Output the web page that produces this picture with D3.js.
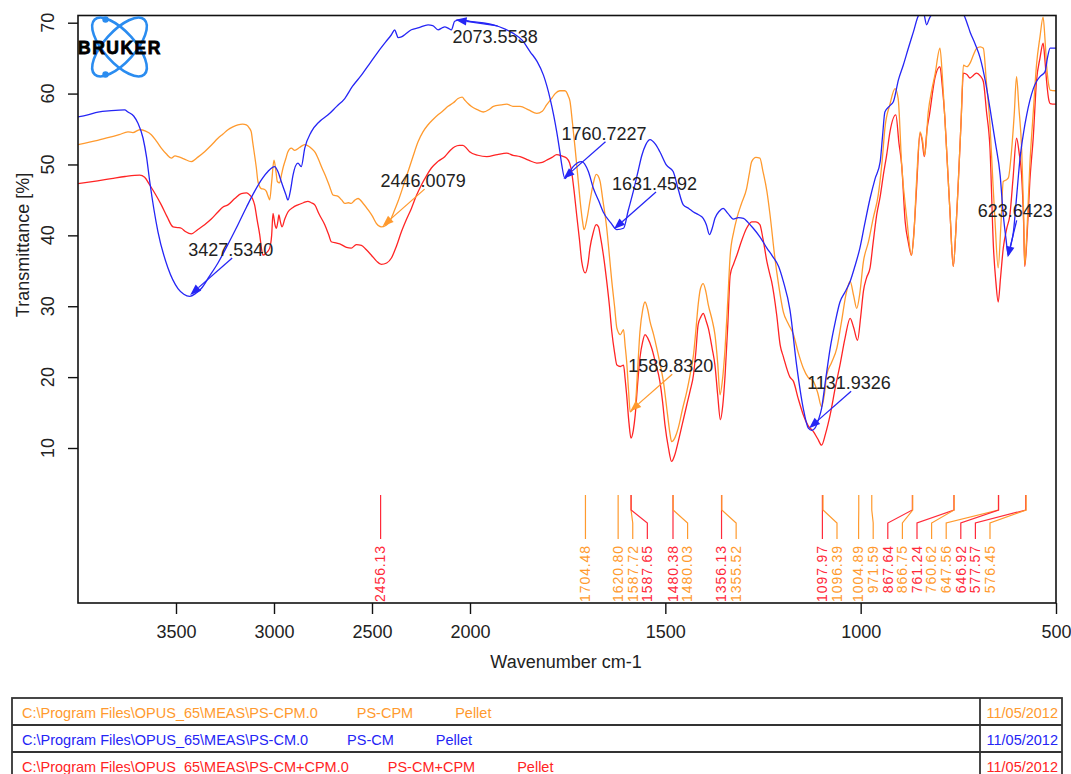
<!DOCTYPE html>
<html><head><meta charset="utf-8">
<script src="https://cdn.jsdelivr.net/npm/d3@7"></script>
<style>body{margin:0;background:#fff}svg{display:block;font-family:"Liberation Sans",Arial,sans-serif}</style>
</head><body><svg id="c" width="1071" height="774"></svg>
<script>
// ---------- DATA ----------
const psCM = [[4000,56.7],[3950,57.0],[3898,57.4],[3830,57.6],[3762,57.7],[3745,57.4],[3715,56.8],[3694,55.8],[3668,53.7],[3650,51.0],[3634,47.6],[3592,40.5],[3541,35.4],[3490,32.5],[3460,31.7],[3430,31.4],[3400,31.8],[3371,32.5],[3330,34.2],[3286,36.1],[3230,39.0],[3184,41.5],[3140,44.0],[3099,46.2],[3060,48.0],[3031,49.0],[2997,49.7],[2980,49.0],[2963,47.6],[2940,45.8],[2929,45.0],[2915,46.5],[2903,48.5],[2878,50.2],[2861,49.7],[2843,52.3],[2810,54.6],[2770,56.0],[2724,57.0],[2680,58.2],[2639,59.3],[2600,61.0],[2554,62.6],[2510,64.3],[2469,65.9],[2430,67.3],[2401,68.3],[2384,69.0],[2375,68.4],[2367,67.9],[2350,68.0],[2333,68.3],[2299,69.0],[2260,69.3],[2214,69.7],[2190,69.6],[2163,69.0],[2140,69.3],[2129,69.4],[2110,69.2],[2095,69.0],[2078,70.2],[2051,70.4],[2000,70.2],[1970,70.0],[1940,69.7],[1910,69.1],[1889,68.5],[1866,67.5],[1846,65.9],[1828,64.5],[1812,62.6],[1795,59.3],[1786,57.0],[1778,54.6],[1770,51.8],[1765,49.9],[1757,48.0],[1750,48.5],[1736,49.7],[1714,50.4],[1697,49.0],[1684,46.6],[1670,44.8],[1659,43.3],[1640,41.8],[1624,40.8],[1607,41.0],[1595,43.5],[1582,46.2],[1570,49.0],[1560,51.3],[1550,52.8],[1539,53.5],[1526,52.9],[1514,51.8],[1497,49.9],[1480,49.0],[1467,46.5],[1454,44.3],[1440,43.8],[1428,43.3],[1415,42.9],[1403,42.4],[1395,41.5],[1387,40.1],[1380,41.0],[1373,42.4],[1362,43.4],[1352,43.8],[1340,43.1],[1326,42.3],[1313,42.5],[1300,42.4],[1288,41.8],[1275,41.0],[1258,39.8],[1240,38.2],[1225,37.0],[1210,35.6],[1198,33.5],[1181,29.5],[1164,21.7],[1147,15.6],[1134,12.8],[1125,12.5],[1117,12.8],[1108,14.0],[1100,15.6],[1090,19.5],[1078,24.1],[1065,27.8],[1053,30.6],[1040,32.0],[1027,33.5],[1015,35.6],[1002,38.2],[990,41.5],[976,45.2],[963,48.0],[950,50.4],[944,54.0],[938,57.4],[925,58.3],[916,58.9],[903,62.0],[891,64.0],[878,66.4],[865,68.7],[852,71.0],[840,71.5],[831,69.7],[825,70.5],[818,71.2],[800,72],[760,72],[737,71.2],[728,70.0],[720,68.7],[707,67.0],[694,65.0],[680,61.5],[669,57.9],[655,53.0],[643,48.5],[635,42.9],[628,39.5],[622,37.2],[616,38.5],[609,40.5],[600,46.0],[592,50.9],[583,54.5],[575,57.0],[567,59.0],[558,60.7],[550,61.7],[541,62.4],[528,63.1],[522,65.0],[515,66.4],[500,66.4]];

const psCPM = [[4000,52.8],[3900,53.4],[3830,53.9],[3790,54.2],[3745,54.6],[3720,54.5],[3685,54.9],[3655,54.7],[3626,54.2],[3600,53.3],[3575,52.3],[3550,51.5],[3524,50.9],[3505,51.2],[3490,51.1],[3460,50.8],[3422,50.4],[3390,51.0],[3354,51.8],[3320,52.7],[3286,53.7],[3260,54.3],[3235,54.9],[3210,55.3],[3184,55.6],[3160,55.7],[3141,55.6],[3125,55.1],[3116,54.6],[3108,53.0],[3099,51.3],[3090,49.5],[3082,47.6],[3065,46.6],[3050,46.5],[3039,46.2],[3030,45.5],[3022,45.0],[3012,47.5],[3000,50.6],[2990,49.0],[2983,47.6],[2971,47.4],[2962,48.5],[2954,49.5],[2940,50.8],[2929,51.8],[2912,52.3],[2894,52.0],[2870,52.4],[2843,52.8],[2825,52.6],[2810,52.3],[2790,51.7],[2776,50.9],[2755,49.5],[2733,48.1],[2715,46.8],[2699,45.7],[2673,45.5],[2655,45.0],[2639,44.5],[2620,44.6],[2606,44.5],[2590,44.9],[2571,45.2],[2545,44.5],[2520,43.6],[2498,42.7],[2478,41.7],[2453,41.2],[2430,41.4],[2410,41.9],[2390,43.2],[2367,44.8],[2340,47.0],[2316,49.0],[2290,51.2],[2265,53.2],[2240,54.6],[2214,55.6],[2190,56.3],[2163,57.0],[2140,57.5],[2112,58.2],[2085,58.7],[2061,59.3],[2040,59.5],[2027,59.1],[2010,58.6],[1997,58.2],[1980,57.7],[1966,57.4],[1950,57.8],[1940,58.2],[1920,58.4],[1906,58.5],[1890,58.2],[1872,58.2],[1850,57.7],[1829,57.2],[1815,57.5],[1804,58.4],[1790,59.4],[1782,60.0],[1770,60.4],[1757,60.4],[1748,59.6],[1744,58.9],[1738,56.0],[1731,52.3],[1724,48.3],[1718,44.8],[1712,42.0],[1708,40.8],[1700,42.5],[1693,44.8],[1684,47.4],[1677,48.6],[1672,48.4],[1667,47.6],[1660,45.0],[1650,41.0],[1643,37.0],[1637,33.5],[1630,30.0],[1624,26.9],[1615,26.0],[1607,26.7],[1603,24.5],[1599,22.2],[1594,18.0],[1590,15.1],[1584,15.4],[1577,16.1],[1571,21.0],[1565,26.4],[1558,29.5],[1552,30.6],[1545,29.5],[1539,27.8],[1530,26.0],[1522,24.1],[1514,22.0],[1505,19.4],[1495,15.0],[1488,12.0],[1484,10.9],[1475,11.5],[1467,12.8],[1456,15.5],[1445,18.0],[1436,20.5],[1428,23.1],[1422,26.5],[1416,30.2],[1410,32.5],[1403,33.2],[1396,32.0],[1390,30.2],[1380,28.0],[1373,26.0],[1366,22.0],[1360,17.5],[1354,19.5],[1347,24.1],[1340,31.0],[1334,37.2],[1325,40.5],[1317,42.4],[1305,44.5],[1292,46.6],[1285,48.7],[1279,50.4],[1268,51.0],[1258,50.9],[1250,49.0],[1240,46.2],[1232,42.9],[1220,37.0],[1210,33.0],[1198,29.2],[1185,27.5],[1172,26.0],[1160,23.5],[1147,21.3],[1135,20.0],[1121,19.4],[1110,17.8],[1100,15.8],[1093,17.5],[1087,20.3],[1075,22.0],[1061,24.1],[1050,27.5],[1036,32.1],[1027,33.5],[1018,31.5],[1010,29.7],[1003,31.5],[993,36.3],[980,39.1],[968,42.4],[955,45.7],[945,50.5],[938,55.1],[925,58.5],[912,60.7],[904,59.3],[895,49.9],[882,42.4],[870,37.2],[864,40.0],[857,47.6],[848,54.6],[842,53.5],[836,51.3],[827,57.4],[818,60.5],[810,62.6],[797,66.4],[791,62.5],[785,57.0],[778,50.0],[771,42.9],[763,35.6],[756,41.0],[750,47.6],[743,56.0],[737,64.0],[728,63.8],[720,64.3],[711,65.5],[703,66.4],[694,66.6],[686,66.4],[678,61.5],[669,55.6],[662,48.0],[656,41.9],[648,35.4],[641,41.5],[635,47.6],[628,47.8],[622,48.1],[614,51.8],[607,57.0],[601,62.4],[595,58.0],[588,52.3],[583,43.5],[580,35.8],[574,41.0],[567,49.9],[558,57.5],[550,64.0],[541,68.0],[533,70.8],[528,67.5],[524,64.0],[518,61.0],[515,60.5],[500,60.4]];

const psCMCPM = [[4000,47.3],[3900,47.7],[3830,48.0],[3760,48.3],[3685,48.5],[3660,48.2],[3634,47.1],[3605,45.8],[3575,44.3],[3545,42.6],[3515,41.2],[3490,41.1],[3473,41.0],[3450,40.5],[3422,40.2],[3390,40.8],[3354,41.5],[3320,42.3],[3286,43.3],[3260,44.0],[3235,44.3],[3200,45.2],[3167,45.9],[3140,46.0],[3124,45.7],[3110,45.2],[3099,44.3],[3085,42.0],[3073,40.1],[3063,38.0],[3056,37.2],[3040,37.5],[3022,38.2],[3012,40.0],[3005,43.1],[2995,41.5],[2988,41.0],[2980,42.0],[2975,42.9],[2968,42.0],[2959,41.2],[2945,42.3],[2929,43.3],[2905,43.9],[2878,44.3],[2850,44.6],[2827,44.8],[2810,44.6],[2792,44.3],[2770,43.0],[2741,41.5],[2720,40.0],[2708,39.1],[2680,38.9],[2657,38.7],[2630,38.3],[2606,38.2],[2580,38.7],[2554,38.6],[2530,38.0],[2503,37.2],[2478,36.4],[2453,35.9],[2425,36.1],[2401,36.8],[2375,38.5],[2350,40.5],[2325,42.2],[2299,43.8],[2275,45.5],[2248,47.1],[2220,48.5],[2197,49.5],[2165,50.4],[2129,51.1],[2100,52.0],[2078,52.5],[2055,52.7],[2036,52.7],[2015,52.2],[2002,51.8],[1980,51.3],[1957,51.1],[1930,51.4],[1906,51.6],[1890,51.3],[1872,51.1],[1850,50.6],[1829,50.2],[1815,50.3],[1804,50.6],[1790,51.0],[1778,51.4],[1765,51.2],[1753,50.9],[1745,50.2],[1740,49.0],[1733,46.0],[1727,42.9],[1720,39.5],[1714,36.3],[1705,34.7],[1698,36.0],[1693,38.2],[1685,40.3],[1677,41.5],[1671,41.2],[1667,40.1],[1658,37.0],[1650,33.5],[1643,30.0],[1637,26.4],[1630,23.5],[1624,21.7],[1615,21.5],[1607,21.7],[1603,19.8],[1599,17.5],[1593,13.5],[1588,11.4],[1582,12.5],[1577,14.7],[1571,19.0],[1565,22.7],[1558,25.0],[1552,26.0],[1545,25.5],[1535,24.1],[1525,22.0],[1514,19.4],[1507,16.5],[1501,13.3],[1492,10.0],[1484,8.1],[1476,9.0],[1467,10.9],[1456,13.5],[1445,16.1],[1436,18.2],[1428,20.3],[1422,23.5],[1416,27.4],[1409,28.5],[1403,29.0],[1396,28.0],[1390,26.9],[1380,24.0],[1373,21.7],[1366,17.5],[1359,14.0],[1353,16.0],[1347,20.3],[1340,27.5],[1334,34.4],[1325,36.0],[1317,37.2],[1305,39.2],[1292,41.0],[1279,41.9],[1268,41.9],[1258,41.5],[1250,39.5],[1240,36.3],[1232,34.4],[1228,33.5],[1215,28.8],[1206,24.5],[1198,22.9],[1181,20.0],[1172,19.4],[1160,17.0],[1147,14.7],[1135,13.2],[1121,12.3],[1110,11.3],[1100,10.4],[1090,12.0],[1078,14.7],[1065,18.5],[1053,21.7],[1040,25.5],[1027,28.3],[1018,27.0],[1008,25.2],[1000,28.5],[993,32.1],[985,34.0],[976,35.4],[968,39.0],[959,42.9],[950,45.5],[942,48.5],[933,51.5],[925,54.6],[910,57.0],[902,53.0],[895,49.9],[886,41.9],[878,39.0],[870,37.2],[863,41.0],[857,46.6],[848,54.4],[843,53.5],[837,51.1],[830,55.0],[824,57.0],[810,62.2],[797,63.8],[791,61.0],[785,57.0],[778,50.0],[771,42.9],[763,35.6],[756,41.0],[750,47.6],[743,56.0],[737,62.9],[728,62.7],[720,62.2],[711,62.6],[703,62.9],[694,62.5],[686,61.7],[678,57.5],[669,52.3],[660,38.2],[654,33.5],[648,30.6],[642,34.0],[635,38.2],[626,41.0],[618,42.9],[610,48.0],[601,53.7],[594,51.5],[588,48.5],[583,42.0],[580,35.6],[574,40.0],[567,47.6],[558,54.0],[550,61.7],[541,65.0],[533,67.1],[528,64.5],[524,61.7],[518,59.0],[515,58.6],[500,58.5]];

const xTickValues = [3500, 3000, 2500, 2000, 1500, 1000, 500];
const yTickValues = [10, 20, 30, 40, 50, 60, 70];

const peakWn = [2456.13,1704.48,1620.80,1587.72,1587.65,1480.38,1480.03,1356.13,1355.52,1097.97,1096.39,1004.89,971.59,867.64,866.75,761.24,760.62,647.56,646.92,577.57,576.45];
const peakSeries = ["cmcpm","cpm","cpm","cpm","cmcpm","cmcpm","cpm","cmcpm","cpm","cmcpm","cpm","cpm","cpm","cmcpm","cpm","cmcpm","cpm","cpm","cmcpm","cmcpm","cpm"];

const annWn = [3427.5340, 2446.0079, 2073.5538, 1760.7227, 1631.4592, 1589.8320, 1131.9326, 623.6423];
const annT = [31.6, 41.3, 70.4, 48.0, 40.9, 15.2, 12.8, 36.9];
const annSeries = ["cm","cpm","cm","cm","cm","cpm","cm","cm"];

const seriesKeys = ["cpm", "cm", "cmcpm"];
const filePaths = ["C:\\Program Files\\OPUS_65\\MEAS\\PS-CPM.0", "C:\\Program Files\\OPUS_65\\MEAS\\PS-CM.0", "C:\\Program Files\\OPUS_65\\MEAS\\PS-CM+CPM.0"];
const sampleNames = ["PS-CPM", "PS-CM", "PS-CM+CPM"];
const sampleForms = ["Pellet", "Pellet", "Pellet"];
const measureDates = ["11/05/2012", "11/05/2012", "11/05/2012"];

// ---------- STYLE / LAYOUT ----------
const colors = {cpm: "#ff9a2e", cm: "#2525f5", cmcpm: "#ff2424"};
const labelColors = {cpm: "#ff9a2e", cmcpm: "#ff2a3a"};
const seriesData = {cm: psCM, cpm: psCPM, cmcpm: psCMCPM};

const L = 78, R = 1056, T = 15.5, B = 603;
const svg = d3.select("#c");
svg.append("rect").attr("width", 1071).attr("height", 774).attr("fill", "#fff");

const x = d3.scaleLinear().domain([4000, 2000, 500]).range([L, 470, R]);
const y = d3.scaleLinear().domain([10, 70]).range([448, 22.7]);

svg.append("defs").append("clipPath").attr("id", "clip")
  .append("rect").attr("x", L).attr("y", T).attr("width", R - L).attr("height", B - T);

const line = d3.line().x(d => x(d[0])).y(d => y(d[1])).curve(d3.curveMonotoneX);
const gC = svg.append("g").attr("clip-path", "url(#clip)");
["cmcpm", "cpm", "cm"].forEach(k => {
  gC.append("path").datum(seriesData[k]).attr("d", line)
    .attr("fill", "none").attr("stroke", colors[k]).attr("stroke-width", 1.3)
    .attr("stroke-linejoin", "round");
});

svg.append("rect").attr("x", L).attr("y", T).attr("width", R - L).attr("height", B - T)
  .attr("fill", "none").attr("stroke", "#111").attr("stroke-width", 1.6);

const xAxis = d3.axisBottom(x).tickValues(xTickValues).tickSize(11).tickPadding(11).tickFormat(d3.format("d"));
const gx = svg.append("g").attr("transform", `translate(0,${B})`).call(xAxis);
gx.select(".domain").remove();
gx.selectAll(".tick line").attr("stroke", "#111").attr("stroke-width", 1.4);
gx.selectAll(".tick text").attr("font-size", 18).attr("fill", "#222").attr("font-family", "Liberation Sans, Arial, sans-serif");

const yAxis = d3.axisLeft(y).tickValues(yTickValues).tickSize(10).tickFormat("");
const gy = svg.append("g").attr("transform", `translate(${L},0)`).call(yAxis);
gy.select(".domain").remove();
gy.selectAll(".tick line").attr("stroke", "#111").attr("stroke-width", 1.4);
svg.append("g").selectAll("text").data(yTickValues).join("text")
  .attr("transform", d => `translate(54,${y(d)}) rotate(-90)`)
  .attr("text-anchor", "middle").attr("font-size", 18).attr("fill", "#222").text(d => d);

svg.append("text").attr("transform", "translate(29,245) rotate(-90)").attr("text-anchor", "middle")
  .attr("font-size", 18).attr("fill", "#222").text("Transmittance [%]");
svg.append("text").attr("x", 566).attr("y", 668).attr("text-anchor", "middle")
  .attr("font-size", 18).attr("fill", "#222").text("Wavenumber cm-1");

// Bruker logo
const logo = svg.append("g").attr("transform", "translate(119.5,47)");
[48, -48].forEach(a => {
  logo.append("ellipse").attr("rx", 37).attr("ry", 15.5).attr("transform", `rotate(${a})`)
    .attr("fill", "none").attr("stroke", "#2a8cf0").attr("stroke-width", 2.6);
});
logo.append("circle").attr("cx", -14).attr("cy", -27.5).attr("r", 3.2).attr("fill", "#2a8cf0");
logo.append("circle").attr("cx", -14).attr("cy", 27.5).attr("r", 3.2).attr("fill", "#2a8cf0");
svg.append("text").attr("x", 78).attr("y", 53.5).attr("font-size", 17.5).attr("font-weight", "bold")
  .attr("letter-spacing", 1.5).attr("fill", "#000").attr("stroke", "#000").attr("stroke-width", 0.8).text("BRUKER");

// peak sticks with label layout
const gap = 14.6, maxLabelX = 990;
const peaks = peakWn.map((w, i) => ({w, s: peakSeries[i], px: x(w)}));
const pos = [];
peaks.forEach((p, i) => { pos[i] = i === 0 ? p.px : Math.max(p.px, pos[i - 1] + gap); });
for (let i = peaks.length - 1; i >= 0; i--) {
  pos[i] = i === peaks.length - 1 ? Math.min(pos[i], maxLabelX) : Math.min(pos[i], pos[i + 1] - gap);
}
const gS = svg.append("g");
peaks.forEach((p, i) => {
  const lx = pos[i];
  gS.append("path").attr("d", `M${p.px},495 L${p.px},510 L${lx},523 L${lx},539`)
    .attr("fill", "none").attr("stroke", labelColors[p.s]).attr("stroke-width", 1.2);
  gS.append("text").attr("transform", `translate(${lx + 4.8},545) rotate(-90)`)
    .attr("text-anchor", "end").attr("font-size", 14).attr("letter-spacing", 0.9)
    .attr("fill", labelColors[p.s]).text(p.w.toFixed(2));
});

// annotations with arrows
const gA = svg.append("g");
annWn.forEach((w, i) => {
  const tx = x(w), ty = y(annT[i]);
  let textX = tx - 2, textY = ty - 39, sx = tx + 42, sy = ty - 37;
  if (ty < 60) { textX = tx - 3; textY = ty + 23.5; sx = tx + 42; sy = ty + 6; }
  if (tx > R - 90) { textX = tx - 30; textY = ty - 40; sx = tx + 9; sy = ty - 37; }
  const c = colors[annSeries[i]];
  const ang = Math.atan2(ty - sy, tx - sx);
  const hl = 11, hw = 4.2;
  const bx = tx - hl * Math.cos(ang), by = ty - hl * Math.sin(ang);
  gA.append("line").attr("x1", sx).attr("y1", sy).attr("x2", bx).attr("y2", by)
    .attr("stroke", c).attr("stroke-width", 1.3);
  gA.append("path").attr("d", `M${tx},${ty} L${bx - hw * Math.sin(ang)},${by + hw * Math.cos(ang)} L${bx + hw * Math.sin(ang)},${by - hw * Math.cos(ang)} Z`)
    .attr("fill", c);
  gA.append("text").attr("x", textX).attr("y", textY).attr("font-size", 18).attr("fill", "#222")
    .text(w.toFixed(4));
});

// table
const tTop = 698, rowH = 27, tL = 12, tR = 1062, colX = 980;
const gT = svg.append("g");
gT.append("rect").attr("x", tL).attr("y", tTop).attr("width", tR - tL).attr("height", rowH * 3)
  .attr("fill", "none").attr("stroke", "#333").attr("stroke-width", 1.8);
[1, 2].forEach(r => gT.append("line").attr("x1", tL).attr("x2", tR).attr("y1", tTop + r * rowH).attr("y2", tTop + r * rowH)
  .attr("stroke", "#333").attr("stroke-width", 1.8));
gT.append("line").attr("x1", colX).attr("x2", colX).attr("y1", tTop).attr("y2", tTop + rowH * 3)
  .attr("stroke", "#333").attr("stroke-width", 1.8);
seriesKeys.forEach((k, r) => {
  const by = tTop + r * rowH + 20;
  const c = colors[k];
  const t1 = gT.append("text").attr("x", 22).attr("y", by).attr("font-size", 14.5).attr("fill", c).text(filePaths[r]);
  const x2 = 22 + t1.node().getComputedTextLength() + 39;
  const t2 = gT.append("text").attr("x", x2).attr("y", by).attr("font-size", 14.5).attr("fill", c).text(sampleNames[r]);
  const x3 = x2 + t2.node().getComputedTextLength() + 42;
  gT.append("text").attr("x", x3).attr("y", by).attr("font-size", 14.5).attr("fill", c).text(sampleForms[r]);
  gT.append("text").attr("x", 1058).attr("y", by).attr("text-anchor", "end").attr("font-size", 14.5).attr("fill", c).text(measureDates[r]);
});
</script>
</body></html>
